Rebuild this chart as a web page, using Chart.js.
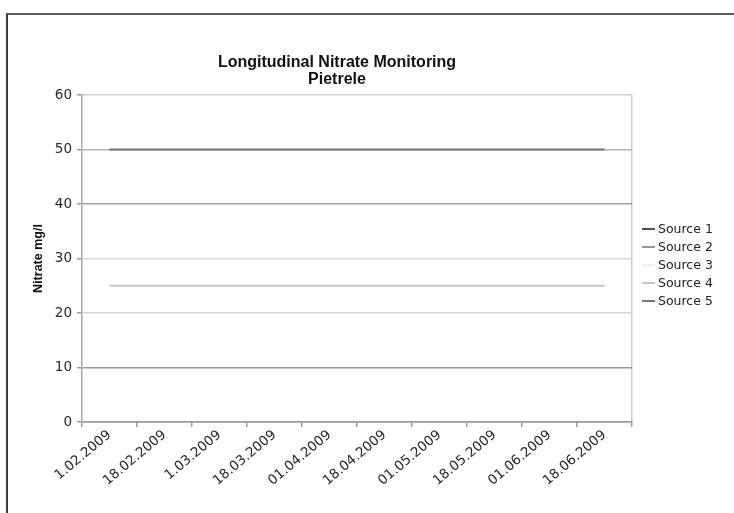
<!DOCTYPE html>
<html>
<head>
<meta charset="utf-8">
<script src="https://cdn.jsdelivr.net/npm/chart.js@4.4.1/dist/chart.umd.min.js"></script>
<style>
    html, body {
        margin: 0;
        padding: 0;
        background: #fff;
        width: 734px;
        height: 513px;
        overflow: hidden;
    }
    #wrap {
        position: relative;
        width: 734px;
        height: 513px;
    }
    #frame {
        position: absolute;
        left: 6px;
        top: 13px;
        width: 800px;
        height: 600px;
        border-left: 2px solid #3a3a3a;
        border-top: 2px solid #5a5a5a;
    }
    #chart {
        position: absolute;
        left: 0;
        top: 0;
    }
    #title {
        position: absolute;
        left: 137px;
        top: 53px;
        width: 400px;
        text-align: center;
        font: bold 16px "Liberation Sans", Arial, sans-serif;
        line-height: 17px;
        color: #111;
    }
    #legend {
        position: absolute;
        left: 642px;
        top: 220px;
        font: 12.5px "DejaVu Sans", Verdana, sans-serif;
        color: #222;
    }
    .legend-row {
        height: 18px;
        line-height: 18px;
        white-space: nowrap;
    }
    .legend-line {
        display: inline-block;
        width: 13px;
        height: 2px;
        vertical-align: middle;
        margin-right: 3px;
        position: relative;
        top: -1px;
    }
</style>
</head>
<body>
<div id="wrap">
    <div id="frame"></div>
    <canvas id="chart" width="734" height="513"></canvas>
    <div id="title">Longitudinal Nitrate Monitoring<br>Pietrele</div>
    <div id="legend"></div>
</div>
<script>
// sampling dates (category axis)
const dates = ['1.02.2009', '18.02.2009', '1.03.2009', '18.03.2009', '01.04.2009',
               '18.04.2009', '01.05.2009', '18.05.2009', '01.06.2009', '18.06.2009'];

// nitrate values per source (mg/l)
const source1 = [null, null, null, null, null, null, null, null, null, null];
const source2 = [null, null, null, null, null, null, null, null, null, null];
const source3 = [null, null, null, null, null, null, null, null, null, null];
const source4 = [25, 25, 25, 25, 25, 25, 25, 25, 25, 25];
const source5 = [50, 50, 50, 50, 50, 50, 50, 50, 50, 50];

const seriesNames = ['Source 1', 'Source 2', 'Source 3', 'Source 4', 'Source 5'];
const seriesData = [source1, source2, source3, source4, source5];
const seriesColors = ['#505050', '#999999', '#eeeeee', '#c6c6c6', '#747474'];

const yTicks = [0, 10, 20, 30, 40, 50, 60];

// gridline shades as they appear in the picture
const gridShades = {
    0: '#9a9a9a', 10: '#999999', 20: '#d8d8d8', 30: '#d8d8d8',
    40: '#a4a4a4', 50: '#b4b4b4', 60: '#d2d2d2'
};

const datasets = seriesNames.map((name, i) => ({
    label: name,
    data: seriesData[i],
    borderColor: seriesColors[i],
    backgroundColor: seriesColors[i],
    borderWidth: 2.2,
    pointRadius: 0,
    pointHoverRadius: 0,
    fill: false,
    tension: 0
}));

// build legend from the series
const legend = document.getElementById('legend');
seriesNames.forEach((name, i) => {
    const row = document.createElement('div');
    row.className = 'legend-row';
    row.innerHTML = `<span class="legend-line" style="background:${seriesColors[i]}"></span>${name}`;
    legend.appendChild(row);
});

const tickFont = { family: '"DejaVu Sans", Verdana, sans-serif', size: 13.5 };

new Chart(document.getElementById('chart'), {
    type: 'line',
    data: {
        labels: dates,
        datasets: datasets
    },
    options: {
        responsive: false,
        animation: false,
        events: [],
        layout: {
            padding: { left: 0, top: 95, right: 102, bottom: 0 }
        },
        plugins: {
            legend: { display: false },
            title: { display: false },
            tooltip: { enabled: false }
        },
        scales: {
            x: {
                type: 'category',
                offset: true,
                grid: {
                    offset: true,
                    drawOnChartArea: true,
                    color: (ctx) => ctx.index === undefined ? '#cccccc' : 'rgba(0,0,0,0)',
                    lineWidth: 1.5,
                    tickColor: '#9a9a9a',
                    tickLength: 5
                },
                border: { color: '#9a9a9a', width: 1.5 },
                ticks: {
                    minRotation: 40,
                    maxRotation: 40,
                    autoSkip: false,
                    padding: 0,
                    color: '#2a2a2a',
                    font: tickFont
                },
                afterFit: (scale) => { scale.height = 91; }
            },
            y: {
                min: 0,
                max: 60,
                afterBuildTicks: (scale) => {
                    scale.ticks = yTicks.map(v => ({ value: v }));
                },
                grid: {
                    color: (ctx) => gridShades[ctx.tick ? ctx.tick.value : 0] || '#cccccc',
                    lineWidth: 1.5,
                    tickColor: '#9a9a9a',
                    tickLength: 5
                },
                border: { color: '#a8a8a8', width: 1.5 },
                ticks: {
                    padding: 5,
                    color: '#2a2a2a',
                    font: tickFont
                },
                title: {
                    display: true,
                    text: 'Nitrate mg/l',
                    color: '#111',
                    font: { family: '"Liberation Sans", Arial, sans-serif', size: 12.5, weight: 'bold' },
                    padding: { top: 31, bottom: 0 }
                },
                afterFit: (scale) => { scale.width = 82; }
            }
        }
    }
});
</script>
</body>
</html>
